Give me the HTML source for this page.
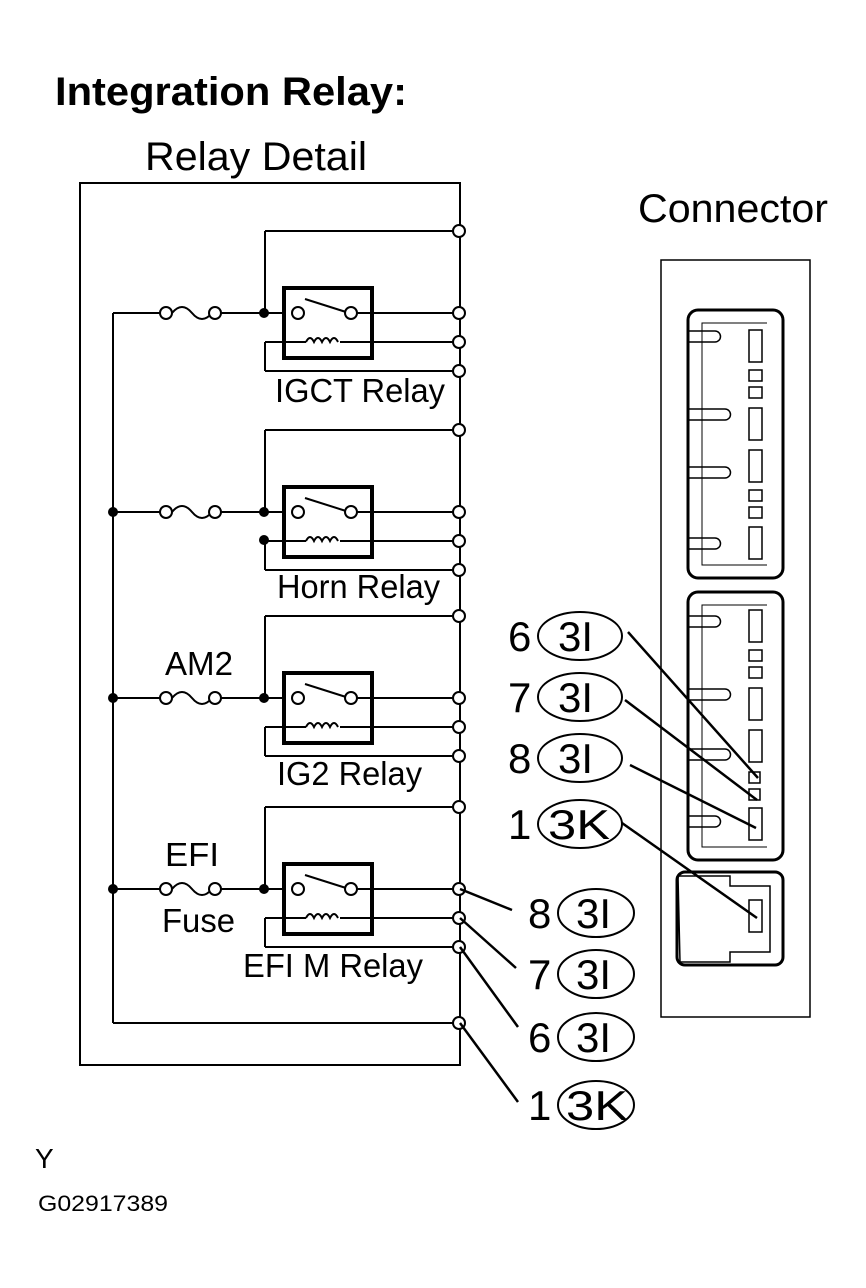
<!DOCTYPE html>
<html><head><style>body{margin:0;background:#fff}svg{display:block}text{font-family:"Liberation Sans",sans-serif;fill:#000}</style></head><body>
<svg width="866" height="1288" viewBox="0 0 866 1288" xmlns="http://www.w3.org/2000/svg">
<text x="55" y="105" font-size="40" font-weight="bold" textLength="352" lengthAdjust="spacingAndGlyphs">Integration Relay:</text>
<text x="145" y="170" font-size="40" textLength="222" lengthAdjust="spacingAndGlyphs">Relay Detail</text>
<text x="638" y="222" font-size="40" textLength="190" lengthAdjust="spacingAndGlyphs">Connector</text>
<g stroke="#000" stroke-width="2" fill="none">
<rect x="80" y="183" width="380" height="882"/>
<line x1="113" y1="313" x2="113" y2="1023"/>
<line x1="113" y1="1023" x2="459" y2="1023"/>
<line x1="113" y1="313" x2="160" y2="313"/>
<line x1="113" y1="512" x2="160" y2="512"/>
<line x1="113" y1="698" x2="160" y2="698"/>
<line x1="113" y1="889" x2="160" y2="889"/>
</g>
<defs>
<g id="relay">
<g stroke="#000" stroke-width="2" fill="none">
<path d="M172 0 q10 -12 20 0 t20 0"/>
<line x1="220" y1="0" x2="284" y2="0"/>
<line x1="265" y1="0" x2="265" y2="-82"/>
<line x1="265" y1="-82" x2="459" y2="-82"/>
<rect x="284" y="-25" width="88" height="70" stroke-width="4"/>
<line x1="305" y1="-14" x2="346" y2="-1"/>
<line x1="357" y1="0" x2="459" y2="0"/>
<line x1="265" y1="29" x2="306" y2="29"/>
<path d="M306 29 q4 -8 8 0 q4 -8 8 0 q4 -8 8 0 q4 -8 8 0"/>
<line x1="340" y1="29" x2="459" y2="29"/>
<line x1="265" y1="29" x2="265" y2="58"/>
<line x1="265" y1="58" x2="459" y2="58"/>
</g>
<g stroke="#000" stroke-width="2" fill="#fff">
<circle cx="166" cy="0" r="6"/><circle cx="215" cy="0" r="6"/>
<circle cx="298" cy="0" r="6"/><circle cx="351" cy="0" r="6"/>
<circle cx="459" cy="-82" r="6"/><circle cx="459" cy="0" r="6"/><circle cx="459" cy="29" r="6"/><circle cx="459" cy="58" r="6"/>
</g>
<circle cx="264" cy="0" r="5" fill="#000"/>
</g>
</defs>
<use href="#relay" transform="translate(0,313)"/>
<use href="#relay" transform="translate(0,512)"/>
<use href="#relay" transform="translate(0,698)"/>
<use href="#relay" transform="translate(0,889)"/>
<circle cx="264" cy="540" r="5" fill="#000"/>
<circle cx="113" cy="512" r="5" fill="#000"/>
<circle cx="113" cy="698" r="5" fill="#000"/>
<circle cx="113" cy="889" r="5" fill="#000"/>
<circle cx="459" cy="1023" r="6" stroke="#000" stroke-width="2" fill="#fff"/>
<g font-size="33">
<text x="275" y="402" textLength="170" lengthAdjust="spacingAndGlyphs">IGCT Relay</text>
<text x="277" y="598" textLength="163" lengthAdjust="spacingAndGlyphs">Horn Relay</text>
<text x="277" y="785" textLength="145" lengthAdjust="spacingAndGlyphs">IG2 Relay</text>
<text x="243" y="977" textLength="180" lengthAdjust="spacingAndGlyphs">EFI M Relay</text>
<text x="165" y="675" textLength="68" lengthAdjust="spacingAndGlyphs">AM2</text>
<text x="165" y="866" textLength="54" lengthAdjust="spacingAndGlyphs">EFI</text>
<text x="162" y="932" textLength="73" lengthAdjust="spacingAndGlyphs">Fuse</text>
</g>
<g stroke="#000" stroke-width="2" fill="none">
<rect x="661" y="260" width="149" height="757" stroke-width="1.5"/>
<rect x="688" y="310" width="95" height="268" rx="10" stroke-width="3"/>
<rect x="688" y="592" width="95" height="268" rx="10" stroke-width="3"/>
<rect x="677" y="872" width="106" height="93" rx="8" stroke-width="3"/>
<polyline points="767,323 702,323 702,565 767,565" stroke-width="1"/>
<polyline points="767,605 702,605 702,847 767,847" stroke-width="1"/>
<rect x="749" y="330" width="13" height="32" stroke-width="1.5"/>
<rect x="749" y="370" width="13" height="11" stroke-width="1.5"/>
<rect x="749" y="387" width="13" height="11" stroke-width="1.5"/>
<rect x="749" y="408" width="13" height="32" stroke-width="1.5"/>
<rect x="749" y="450" width="13" height="32" stroke-width="1.5"/>
<rect x="749" y="490" width="13" height="11" stroke-width="1.5"/>
<rect x="749" y="507" width="13" height="11" stroke-width="1.5"/>
<rect x="749" y="527" width="13" height="32" stroke-width="1.5"/>
<rect x="749" y="610" width="13" height="32" stroke-width="1.5"/>
<rect x="749" y="650" width="13" height="11" stroke-width="1.5"/>
<rect x="749" y="667" width="13" height="11" stroke-width="1.5"/>
<rect x="749" y="688" width="13" height="32" stroke-width="1.5"/>
<rect x="749" y="730" width="13" height="32" stroke-width="1.5"/>
<rect x="749" y="772" width="11" height="11" stroke-width="1.5"/>
<rect x="749" y="789" width="11" height="11" stroke-width="1.5"/>
<rect x="749" y="808" width="13" height="32" stroke-width="1.5"/>
<path d="M688 342 h27 a5 5 0 0 0 0 -11 h-27 M688 420 h37 a5 5 0 0 0 0 -11 h-37 M688 478 h37 a5 5 0 0 0 0 -11 h-37 M688 549 h27 a5 5 0 0 0 0 -11 h-27" stroke-width="1.5"/>
<path d="M688 627 h27 a5 5 0 0 0 0 -11 h-27 M688 700 h37 a5 5 0 0 0 0 -11 h-37 M688 760 h37 a5 5 0 0 0 0 -11 h-37 M688 827 h27 a5 5 0 0 0 0 -11 h-27" stroke-width="1.5"/>
<path d="M678 876 h52 v10 h40 v66 h-40 v10 h-50 z" stroke-width="1.5"/>
<rect x="749" y="900" width="13" height="32" stroke-width="1.5"/>
<line x1="628" y1="632" x2="758" y2="778" stroke-width="2.5"/>
<line x1="625" y1="700" x2="757" y2="800" stroke-width="2.5"/>
<line x1="630" y1="765" x2="756" y2="828" stroke-width="2.5"/>
<line x1="622" y1="823" x2="757" y2="918" stroke-width="2.5"/>
<line x1="460" y1="889" x2="512" y2="910" stroke-width="2.5"/>
<line x1="460" y1="918" x2="516" y2="968" stroke-width="2.5"/>
<line x1="460" y1="947" x2="518" y2="1027" stroke-width="2.5"/>
<line x1="460" y1="1023" x2="518" y2="1102" stroke-width="2.5"/>
<ellipse cx="580" cy="636" rx="42" ry="24"/>
<ellipse cx="580" cy="697" rx="42" ry="24"/>
<ellipse cx="580" cy="758" rx="42" ry="24"/>
<ellipse cx="580" cy="824" rx="42" ry="24"/>
<ellipse cx="596" cy="913" rx="38" ry="24"/>
<ellipse cx="596" cy="974" rx="38" ry="24"/>
<ellipse cx="596" cy="1037" rx="38" ry="24"/>
<ellipse cx="596" cy="1105" rx="38" ry="24"/>
</g>
<g font-size="42">
<text x="508" y="651">6</text><text x="558" y="651">3I</text>
<text x="508" y="712">7</text><text x="558" y="712">3I</text>
<text x="508" y="773">8</text><text x="558" y="773">3I</text>
<text x="508" y="839">1</text><text x="548" y="839" textLength="62" lengthAdjust="spacingAndGlyphs">3K</text>
<text x="528" y="928">8</text><text x="576" y="928">3I</text>
<text x="528" y="989">7</text><text x="576" y="989">3I</text>
<text x="528" y="1052">6</text><text x="576" y="1052">3I</text>
<text x="528" y="1120">1</text><text x="566" y="1120" textLength="62" lengthAdjust="spacingAndGlyphs">3K</text>
</g>
<text x="35" y="1168" font-size="28">Y</text>
<text x="38" y="1211" font-size="22" textLength="130" lengthAdjust="spacingAndGlyphs">G02917389</text>
</svg>
</body></html>
